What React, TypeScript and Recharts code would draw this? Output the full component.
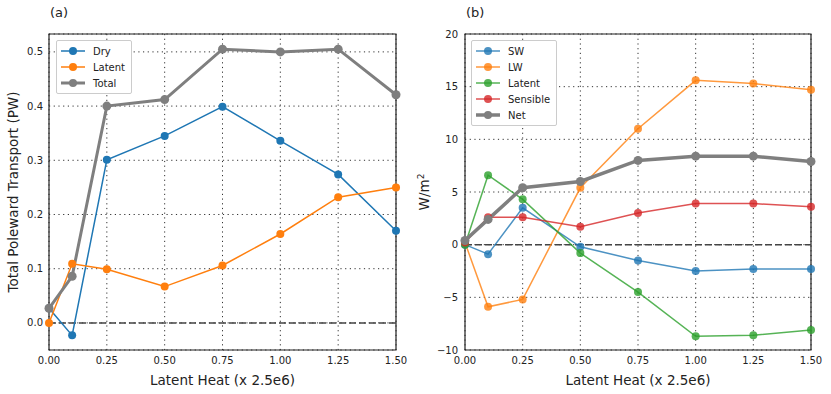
import React from 'react';
import { LineChart, Line, XAxis, YAxis, CartesianGrid, ReferenceLine, ReferenceArea, Legend, Label } from 'recharts';

const latentHeat = [0, 0.1, 0.25, 0.5, 0.75, 1.0, 1.25, 1.5];
const xTicks = [0, 0.25, 0.5, 0.75, 1.0, 1.25, 1.5];

// panel (a): transport, PW
const dryTransport = [0.027, -0.023, 0.301, 0.345, 0.399, 0.336, 0.274, 0.170];
const latentTransport = [0.0, 0.109, 0.099, 0.067, 0.106, 0.164, 0.232, 0.250];
const totalTransport = [0.027, 0.086, 0.400, 0.412, 0.505, 0.500, 0.505, 0.421];
const transportTicks = [0, 0.1, 0.2, 0.3, 0.4, 0.5];

// panel (b): fluxes, W/m2
const swFlux = [0.0, -0.9, 3.5, -0.2, -1.5, -2.5, -2.3, -2.3];
const lwFlux = [0.2, -5.9, -5.2, 5.4, 11.0, 15.6, 15.3, 14.7];
const latentFlux = [0.0, 6.6, 4.3, -0.8, -4.5, -8.7, -8.6, -8.1];
const sensibleFlux = [0.2, 2.6, 2.6, 1.7, 3.0, 3.9, 3.9, 3.6];
const netFlux = [0.4, 2.4, 5.4, 6.0, 8.0, 8.4, 8.4, 7.9];
const fluxTicks = [-10, -5, 0, 5, 10, 15, 20];

const transportRows = latentHeat.map((x, i) => ({
  x,
  dry: dryTransport[i],
  latent: latentTransport[i],
  total: totalTransport[i],
}));

const fluxRows = latentHeat.map((x, i) => ({
  x,
  sw: swFlux[i],
  lw: lwFlux[i],
  latent: latentFlux[i],
  sensible: sensibleFlux[i],
  net: netFlux[i],
}));

const FONT = '"DejaVu Sans", sans-serif';
const INK = '#222';

type Item = { name: string; color: string; width: number; opacity: number };

const transportItems: Item[] = [
  { name: 'Dry', color: '#1f77b4', width: 1.5, opacity: 1 },
  { name: 'Latent', color: '#ff7f0e', width: 1.5, opacity: 1 },
  { name: 'Total', color: '#7f7f7f', width: 3, opacity: 1 },
];

const fluxItems: Item[] = [
  { name: 'SW', color: '#1f77b4', width: 1.5, opacity: 0.8 },
  { name: 'LW', color: '#ff7f0e', width: 1.5, opacity: 0.8 },
  { name: 'Latent', color: '#2ca02c', width: 1.5, opacity: 0.8 },
  { name: 'Sensible', color: '#d62728', width: 1.5, opacity: 0.8 },
  { name: 'Net', color: '#7f7f7f', width: 3.5, opacity: 1 },
];

const LegendBox = ({ items }: { items: Item[] }) => (
  <div
    style={{
      border: '1px solid #ccc',
      borderRadius: 2,
      background: '#fff',
      padding: '2px 6px 2px 2px',
      fontFamily: FONT,
      fontSize: 10,
      color: INK,
    }}
  >
    {items.map((it) => (
      <div key={it.name} style={{ display: 'flex', alignItems: 'center', height: 16 }}>
        <svg width={30} height={12}>
          <line x1={2} y1={6} x2={26} y2={6} stroke={it.color} strokeWidth={it.width} strokeOpacity={it.opacity} />
          <circle cx={14} cy={6} r={4} fill={it.color} fillOpacity={it.opacity} />
        </svg>
        <span style={{ marginLeft: 4 }}>{it.name}</span>
      </div>
    ))}
  </div>
);

const minus = (s: string) => s.replace('-', '\u2212');

const App = () => {
  const tickStyle = { fontSize: 10, fill: INK, fontFamily: FONT };
  const labelStyle = { fontSize: 13.5, fill: INK, fontFamily: FONT };
  return (
    <div style={{ position: 'absolute', left: 0, top: 0, width: 831, height: 394, background: '#fff', fontFamily: FONT }}>
      <div style={{ position: 'absolute', left: 50, top: 5, fontSize: 13, color: INK }}>(a)</div>
      <div style={{ position: 'absolute', left: 466, top: 5, fontSize: 13, color: INK }}>(b)</div>

      <div style={{ position: 'absolute', left: 0, top: 0 }}>
        <LineChart width={415} height={394} data={transportRows} margin={{ top: 34, right: 19, bottom: 0, left: 0 }}>
          <CartesianGrid stroke="#333" strokeDasharray="1.2 3.5" />
          <XAxis
            dataKey="x"
            type="number"
            domain={[0, 1.5]}
            ticks={xTicks}
            tickFormatter={(v: number) => v.toFixed(2)}
            axisLine={false}
            tickLine={false}
            tickSize={4}
            tickMargin={3}
            height={44}
            tick={tickStyle}
          >
            <Label value="Latent Heat (x 2.5e6)" position="insideBottom" offset={9} style={labelStyle} />
          </XAxis>
          <YAxis
            type="number"
            domain={[-0.05, 0.533]}
            allowDataOverflow
            ticks={transportTicks}
            tickFormatter={(v: number) => v.toFixed(1)}
            axisLine={false}
            tickLine={false}
            tickSize={4}
            tickMargin={2}
            width={49}
            tick={tickStyle}
            label={({ viewBox }: any) => {
              const cx = viewBox.x + 18;
              const cy = viewBox.y + viewBox.height / 2;
              return (
                <text x={cx} y={cy} transform={`rotate(-90 ${cx} ${cy})`} textAnchor="middle" fontSize={13.5} fill={INK} fontFamily={FONT}>
                  Total Poleward Transport (PW)
                </text>
              );
            }}
          />
          <ReferenceLine y={0} stroke="#444" strokeWidth={1.5} strokeDasharray="7 3" />
          <ReferenceArea x1={0} x2={1.5} y1={-0.05} y2={0.533} fill="none" stroke={INK} strokeWidth={1.2} />
          <Line dataKey="dry" stroke="#1f77b4" strokeWidth={1.5} dot={{ r: 4, fill: '#1f77b4', stroke: 'none' }} activeDot={false} isAnimationActive={false} />
          <Line dataKey="latent" stroke="#ff7f0e" strokeWidth={1.5} dot={{ r: 4, fill: '#ff7f0e', stroke: 'none' }} activeDot={false} isAnimationActive={false} />
          <Line dataKey="total" stroke="#7f7f7f" strokeWidth={3} dot={{ r: 4.5, fill: '#7f7f7f', stroke: 'none' }} activeDot={false} isAnimationActive={false} />
          <Legend
            layout="vertical"
            align="center"
            verticalAlign="middle"
            content={() => <LegendBox items={transportItems} />}
            wrapperStyle={{ left: 56, top: 40, width: 'auto' }}
          />
        </LineChart>
      </div>

      <div style={{ position: 'absolute', left: 415, top: 0 }}>
        <LineChart width={416} height={394} data={fluxRows} margin={{ top: 34, right: 20, bottom: 0, left: 0 }}>
          <CartesianGrid stroke="#333" strokeDasharray="1.2 3.5" />
          <XAxis
            dataKey="x"
            type="number"
            domain={[0, 1.5]}
            ticks={xTicks}
            tickFormatter={(v: number) => v.toFixed(2)}
            axisLine={false}
            tickLine={false}
            tickSize={4}
            tickMargin={3}
            height={44}
            tick={tickStyle}
          >
            <Label value="Latent Heat (x 2.5e6)" position="insideBottom" offset={9} style={labelStyle} />
          </XAxis>
          <YAxis
            type="number"
            domain={[-10, 20]}
            allowDataOverflow
            ticks={fluxTicks}
            tickFormatter={(v: number) => minus(String(v))}
            axisLine={false}
            tickLine={false}
            tickSize={5}
            tickMargin={2}
            width={50}
            tick={tickStyle}
            label={({ viewBox }: any) => {
              const cx = viewBox.x + 14;
              const cy = viewBox.y + viewBox.height / 2;
              return (
                <text x={cx} y={cy} transform={`rotate(-90 ${cx} ${cy})`} textAnchor="middle" fontSize={13.5} fill={INK} fontFamily={FONT}>
                  W/m<tspan dy={-5} fontSize={9}>2</tspan>
                </text>
              );
            }}
          />
          <ReferenceLine y={0} stroke="#444" strokeWidth={1.5} strokeDasharray="7 3" />
          <ReferenceArea x1={0} x2={1.5} y1={-10} y2={20} fill="none" stroke={INK} strokeWidth={1.2} />
          <Line dataKey="sw" stroke="#1f77b4" strokeOpacity={0.8} strokeWidth={1.5} dot={{ r: 4, fill: '#1f77b4', fillOpacity: 0.8, stroke: 'none' }} activeDot={false} isAnimationActive={false} />
          <Line dataKey="lw" stroke="#ff7f0e" strokeOpacity={0.8} strokeWidth={1.5} dot={{ r: 4, fill: '#ff7f0e', fillOpacity: 0.8, stroke: 'none' }} activeDot={false} isAnimationActive={false} />
          <Line dataKey="latent" stroke="#2ca02c" strokeOpacity={0.8} strokeWidth={1.5} dot={{ r: 4, fill: '#2ca02c', fillOpacity: 0.8, stroke: 'none' }} activeDot={false} isAnimationActive={false} />
          <Line dataKey="sensible" stroke="#d62728" strokeOpacity={0.8} strokeWidth={1.5} dot={{ r: 4, fill: '#d62728', fillOpacity: 0.8, stroke: 'none' }} activeDot={false} isAnimationActive={false} />
          <Line dataKey="net" stroke="#7f7f7f" strokeWidth={3.5} dot={{ r: 4.5, fill: '#7f7f7f', stroke: 'none' }} activeDot={false} isAnimationActive={false} />
          <Legend
            layout="vertical"
            align="center"
            verticalAlign="middle"
            content={() => <LegendBox items={fluxItems} />}
            wrapperStyle={{ left: 56, top: 40, width: 'auto' }}
          />
        </LineChart>
      </div>
    </div>
  );
};

export default App;
